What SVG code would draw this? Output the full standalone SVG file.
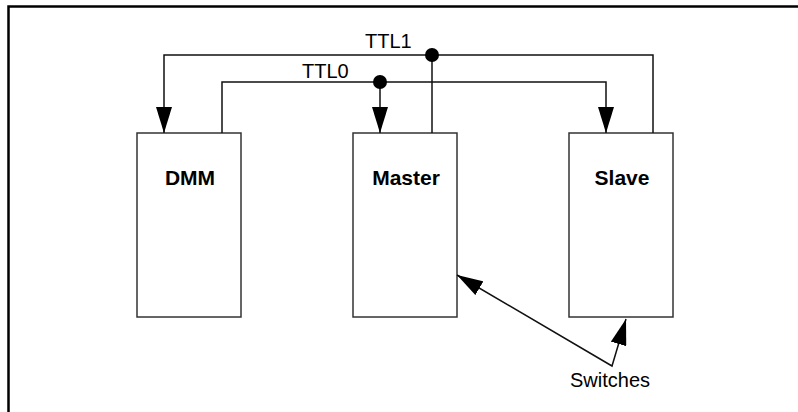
<svg xmlns="http://www.w3.org/2000/svg" width="798" height="412" viewBox="0 0 798 412">
  <style>
    .frame { fill: none; stroke: #000; stroke-width: 2.5; }
    .box { fill: #fff; stroke: #333; stroke-width: 1.5; }
    .wire { fill: none; stroke: #111; stroke-width: 1.5; }
    .dot { fill: #000; }
    .name { font-family: "Liberation Sans", Arial, sans-serif; font-weight: bold; font-size: 21px; fill: #000; text-anchor: middle; }
    .label { font-family: "Liberation Sans", Arial, sans-serif; font-size: 20px; fill: #000; }
  </style>
  <defs>
    <marker id="arrow" viewBox="0 0 26 16" refX="26" refY="8" markerWidth="26" markerHeight="16" markerUnits="userSpaceOnUse" orient="auto-start-reverse">
      <path d="M0,0 L26,8 L0,16 z" fill="#000"/>
    </marker>
  </defs>

  <rect width="798" height="412" fill="#fff"/>
  <!-- outer frame: left and top edges only -->
  <polyline class="frame" points="8.5,412 8.5,6.5 798,6.5"/>

  <g id="dmm">
    <rect class="box" x="137" y="133" width="104" height="184"/>
    <text class="name" x="190" y="185">DMM</text>
  </g>
  <g id="master">
    <rect class="box" x="353" y="133" width="104" height="184"/>
    <text class="name" x="406" y="185">Master</text>
  </g>
  <g id="slave">
    <rect class="box" x="569" y="133" width="104" height="184"/>
    <text class="name" x="622" y="185">Slave</text>
  </g>

  <g id="connectors">
    <!-- TTL1: Slave drives DMM and Master -->
    <polyline class="wire" points="653,133 653,55 164,55 164,133" marker-end="url(#arrow)"/>
    <line class="wire" x1="432" y1="55" x2="432" y2="133"/>
    <circle class="dot" cx="432" cy="55" r="7"/>
    <!-- TTL0: DMM drives Slave and Master -->
    <polyline class="wire" points="222,133 222,82 606,82 606,133" marker-end="url(#arrow)"/>
    <line class="wire" x1="380" y1="82" x2="380" y2="133" marker-end="url(#arrow)"/>
    <circle class="dot" cx="380" cy="82" r="7"/>
    <!-- Switches callout -->
    <polyline class="wire" points="457,275 612,366 626,319" marker-start="url(#arrow)" marker-end="url(#arrow)"/>
  </g>

  <g id="labels">
    <text class="label" x="365" y="48">TTL1</text>
    <text class="label" x="302" y="78">TTL0</text>
    <text class="label" x="570" y="387">Switches</text>
  </g>
</svg>
